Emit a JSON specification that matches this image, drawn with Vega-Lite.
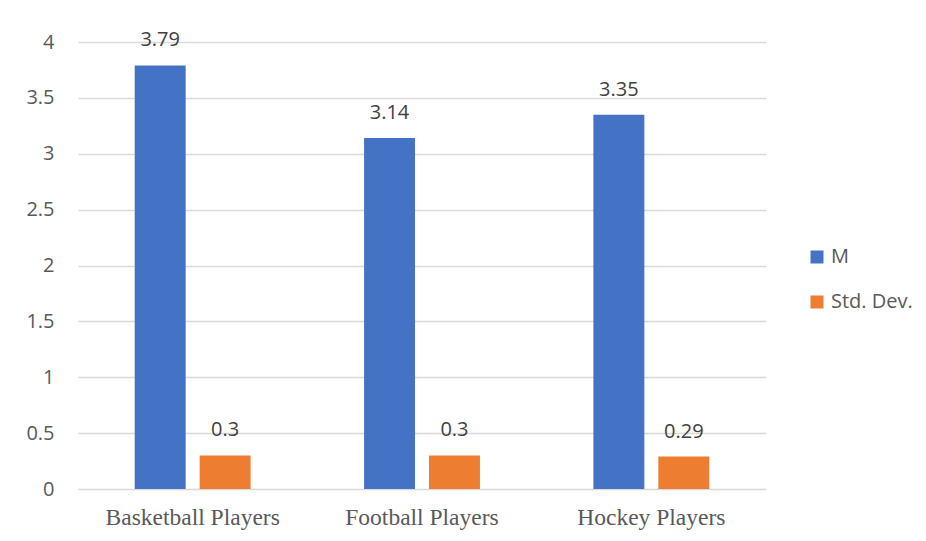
{
  "$schema": "https://vega.github.io/schema/vega-lite/v6.json",
  "width": 688,
  "height": 447,
  "autosize": {"type": "none"},
  "padding": {"left": 78, "top": 42, "right": 160, "bottom": 52},
  "background": "white",
  "data": {
    "values": [
      {"group": "Basketball Players", "measure": "M", "value": 3.79},
      {"group": "Basketball Players", "measure": "Std. Dev.", "value": 0.3},
      {"group": "Football Players", "measure": "M", "value": 3.14},
      {"group": "Football Players", "measure": "Std. Dev.", "value": 0.3},
      {"group": "Hockey Players", "measure": "M", "value": 3.35},
      {"group": "Hockey Players", "measure": "Std. Dev.", "value": 0.29}
    ]
  },
  "encoding": {
    "x": {
      "field": "group",
      "type": "nominal",
      "sort": null,
      "scale": {"paddingInner": 0.4946, "paddingOuter": 0.2473},
      "axis": {
        "title": null,
        "labelAngle": 0,
        "ticks": false,
        "domain": false,
        "labelFont": "Liberation Serif",
        "labelFontSize": 23.5,
        "labelColor": "#595959",
        "labelPadding": 16
      }
    },
    "xOffset": {
      "field": "measure",
      "type": "nominal",
      "sort": ["M", "Std. Dev."],
      "scale": {"paddingInner": 0.2154, "paddingOuter": 0}
    },
    "y": {
      "field": "value",
      "type": "quantitative",
      "scale": {"domain": [0, 4], "nice": false},
      "axis": {
        "title": null,
        "values": [0, 0.5, 1, 1.5, 2, 2.5, 3, 3.5, 4],
        "format": "~g",
        "ticks": false,
        "domain": false,
        "grid": true,
        "gridColor": "#d9d9d9",
        "gridWidth": 1.3,
        "labelFont": "Open Sans",
        "labelFontSize": 20,
        "labelColor": "#595959",
        "labelPadding": 24
      }
    }
  },
  "layer": [
    {
      "mark": {"type": "bar"},
      "encoding": {
        "color": {
          "field": "measure",
          "type": "nominal",
          "sort": ["M", "Std. Dev."],
          "scale": {"domain": ["M", "Std. Dev."], "range": ["#4472C4", "#ED7D31"]},
          "legend": {
            "title": null,
            "orient": "none",
            "legendX": 729,
            "legendY": 205,
            "symbolType": "square",
            "symbolSize": 169,
            "symbolStrokeWidth": 0,
            "labelFont": "Open Sans",
            "labelFontSize": 20,
            "labelColor": "#595959",
            "labelOffset": 4,
            "rowPadding": 25
          }
        }
      }
    },
    {
      "mark": {
        "type": "text",
        "baseline": "alphabetic",
        "dy": -19,
        "font": "Open Sans",
        "fontSize": 20,
        "color": "#404040"
      },
      "encoding": {
        "text": {"field": "value", "type": "quantitative"}
      }
    }
  ],
  "config": {"view": {"stroke": null}}
}
